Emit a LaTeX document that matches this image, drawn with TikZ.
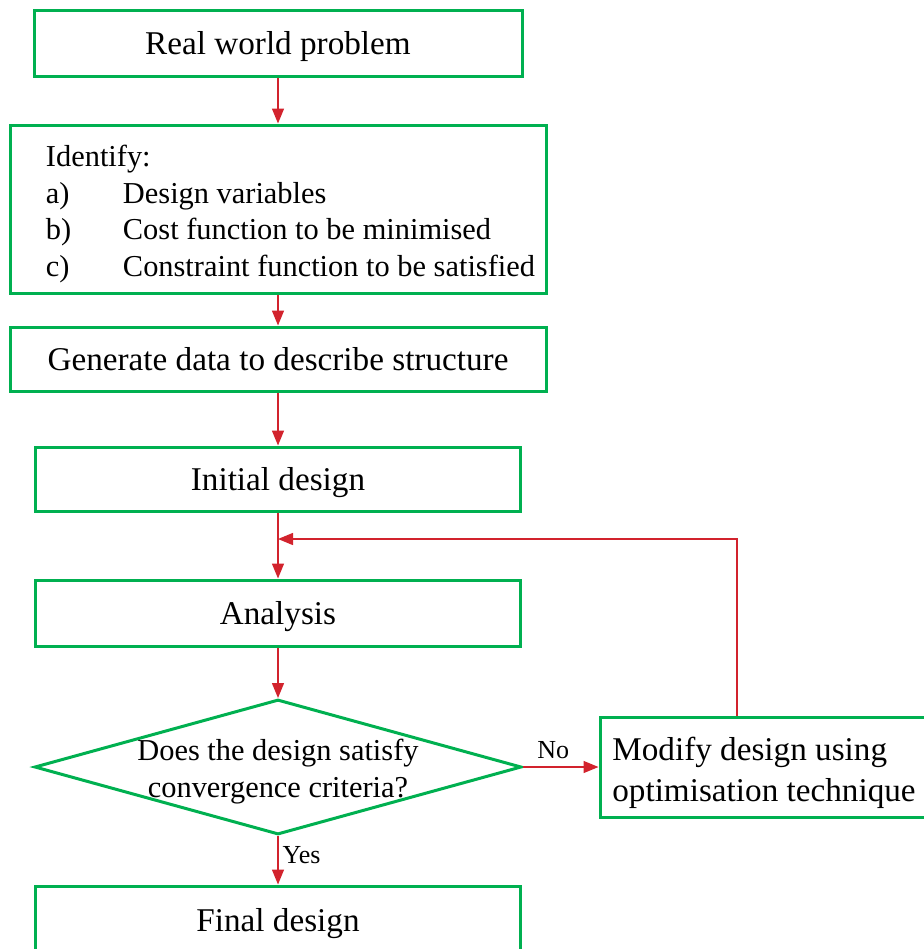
\documentclass[tikz,border=0pt]{standalone}
\usepackage{fontspec}
\setmainfont{Liberation Serif}
\usetikzlibrary{shapes.geometric,arrows.meta}
\definecolor{boxgreen}{RGB}{0,176,80}
\definecolor{arrred}{RGB}{210,35,45}

\begin{document}
\begin{tikzpicture}[x=0.5pt,y=-0.5pt,
  box/.style={draw=boxgreen,line width=1.5pt,minimum height=32pt,inner sep=0pt,text depth=0pt,font=\fontsize{16.6}{20}\selectfont},
  arr/.style={draw=arrred,line width=0.7pt,-{Triangle[length=7.5pt,width=6pt]}},
  lbl/.style={font=\fontsize{13}{15}\selectfont,inner sep=2pt}]
\useasboundingbox (0,0) rectangle (924,949);
\node[box,minimum width=244pt,minimum height=33pt] (real) at (278,43) {Real world problem};
\node[box,text depth=,minimum width=268pt,minimum height=84pt,font=\fontsize{15.2}{18.25}\selectfont] (ident) at (278,209)
  {\raisebox{-2.5pt}[\height][\depth]{\begin{tabular}{@{\hspace{12.5pt}}p{38.5pt}@{}l@{}}
   \multicolumn{2}{@{\hspace{12.5pt}}l@{}}{Identify:}\\
   a) & Design variables\\
   b) & Cost function to be minimised\\
   c) & Constraint function to be satisfied
   \end{tabular}}};
\node[box,minimum width=268pt] (gen) at (278,359) {Generate data to describe structure};
\node[box,minimum width=242.5pt] (init) at (278,479) {Initial design};
\node[box,minimum width=242.5pt,minimum height=33pt] (anal) at (278,613) {Analysis};
\node[diamond,aspect=3.6,draw=boxgreen,line width=1.5pt,inner sep=0pt,minimum width=243.5pt,minimum height=67.5pt] (dec) at (278,767) {};
\node[align=center,font=\fontsize{15.2}{18.5}\selectfont] (dect) at ([yshift=-2.5pt]dec.center) {Does the design satisfy\\convergence criteria?};
\node[box,text depth=,minimum width=164pt,minimum height=50pt,font=\fontsize{16.6}{20.5}\selectfont] (mod) at (764,767)
  {\raisebox{-3pt}[\height][\depth]{\begin{tabular}{@{}l@{}}Modify design using\\optimisation technique\end{tabular}}};
\node[box,minimum width=242.5pt,minimum height=34pt] (final) at (278,920) {Final design};
\coordinate (loopj) at (278,539);

\draw[arr] (real) -- (ident);
\draw[arr] (ident) -- (gen);
\draw[arr] (gen) -- (init);
\draw[arr] (init) -- (anal);
\draw[arr] (anal) -- (dec);
\draw[arr] (dec.east) -- node[lbl,above,pos=0.4,yshift=2pt] (no) {No} (mod.west);
\draw[arr] (dec.south) -- node[lbl,right,pos=0.4] (yes) {Yes} (final.north);
\draw[arr] ([xshift=-13.5pt]mod.north) |- (loopj);
\end{tikzpicture}
\end{document}
